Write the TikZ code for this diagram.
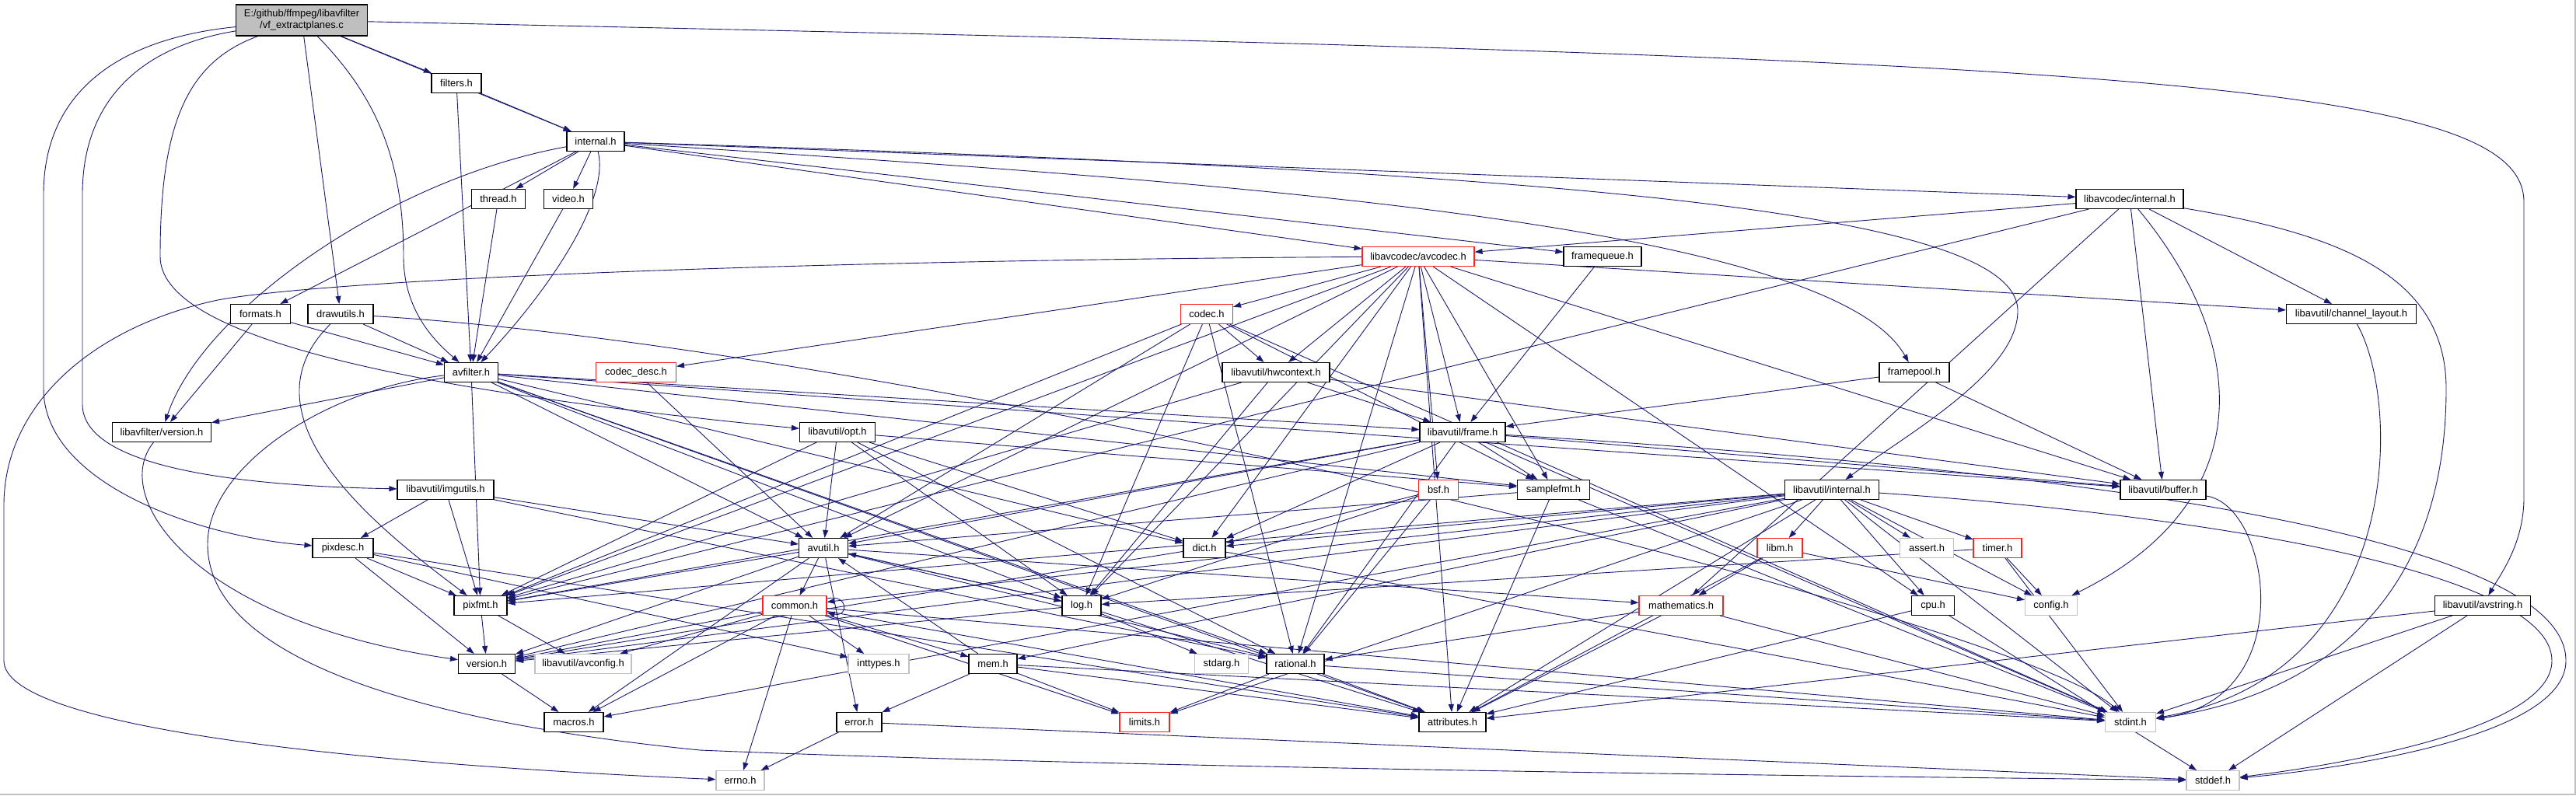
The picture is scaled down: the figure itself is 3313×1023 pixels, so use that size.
\documentclass[tikz,border=0pt]{standalone}
\usepackage{fontspec}
\setmainfont{Liberation Sans}
\usetikzlibrary{arrows.meta}
\definecolor{edgecol}{HTML}{191970}
\definecolor{redb}{HTML}{FF2020}
\definecolor{grayb}{HTML}{C0C0C0}
\definecolor{rootfill}{HTML}{BFBFBF}
\pgfdeclarelayer{bg}
\pgfsetlayers{bg,main}
\tikzset{
 nb/.style={draw=black, fill=white, line width=1.1pt, minimum height=25pt, inner sep=0pt, font=\fontsize{12.9}{15}\selectfont},
 rb/.style={nb, draw=redb},
 gb/.style={nb, draw=grayb},
 e/.style={draw=edgecol, line width=0.9pt, -{Triangle[length=10pt,width=7pt]}},
}
\begin{document}
\begin{tikzpicture}[x=1pt,y=-1pt]
\useasboundingbox (0,0) rectangle (3313,1023);
% nodes
\node[nb, fill=rootfill, minimum width=169pt, minimum height=40pt, align=center] (root) at (388,26) {E:/github/ffmpeg/libavfilter\\/vf\_extractplanes.c};
\node[nb, minimum width=64pt] (filters) at (587,107) {filters.h};
\node[nb, minimum width=74pt] (internal) at (766,182) {internal.h};
\node[nb, minimum width=69pt] (thread) at (641,256) {thread.h};
\node[nb, minimum width=63pt] (video) at (731,256) {video.h};
\node[nb, minimum width=77pt] (formats) at (335,404) {formats.h};
\node[nb, minimum width=84pt] (drawutils) at (438,404) {drawutils.h};
\node[nb, minimum width=69pt] (avfilter) at (606,479) {avfilter.h};
\node[rb, minimum width=103pt] (codecdesc) at (818,479) {codec\_desc.h};
\node[rb, minimum width=67pt] (codec) at (1552,404) {codec.h};
\node[nb, minimum width=138pt] (hwcontext) at (1641,479) {libavutil/hwcontext.h};
\node[rb, minimum width=144pt] (avcodec) at (1824,330) {libavcodec/avcodec.h};
\node[nb, minimum width=100pt] (framequeue) at (2061,330) {framequeue.h};
\node[nb, minimum width=90pt] (framepool) at (2462,479) {framepool.h};
\node[nb, minimum width=138pt] (lavcinternal) at (2739,256) {libavcodec/internal.h};
\node[nb, minimum width=167pt] (chlayout) at (3024,404) {libavutil/channel\_layout.h};
\node[nb, minimum width=127pt] (lafversion) at (208,556) {libavfilter/version.h};
\node[nb, minimum width=124pt] (imgutils) at (573,630) {libavutil/imgutils.h};
\node[nb, minimum width=78pt] (pixdesc) at (441,705) {pixdesc.h};
\node[nb, minimum width=68pt] (pixfmt) at (618,779) {pixfmt.h};
\node[nb, minimum width=73pt] (version) at (626,854) {version.h};
\node[gb, minimum width=124pt] (avconfig) at (750,854) {libavutil/avconfig.h};
\node[nb, minimum width=76pt] (macros) at (738,929) {macros.h};
\node[nb, minimum width=97pt] (opt) at (1077,556) {libavutil/opt.h};
\node[nb, minimum width=63pt] (avutil) at (1059,705) {avutil.h};
\node[nb, minimum width=54pt] (dict) at (1549,705) {dict.h};
\node[rb, minimum width=82pt] (common) at (1022,779) {common.h};
\node[nb, minimum width=50pt] (log) at (1391,779) {log.h};
\node[gb, minimum width=78pt] (inttypes) at (1130,854) {inttypes.h};
\node[nb, minimum width=62pt] (mem) at (1277,854) {mem.h};
\node[gb, minimum width=69pt] (stdarg) at (1571,854) {stdarg.h};
\node[nb, minimum width=74pt] (rational) at (1666,854) {rational.h};
\node[nb, minimum width=58pt] (error) at (1105,929) {error.h};
\node[rb, minimum width=64pt] (limits) at (1472,929) {limits.h};
\node[gb, minimum width=62pt] (errno) at (952,1004) {errno.h};
\node[nb, minimum width=110pt] (frame) at (1881,556) {libavutil/frame.h};
\node[rb, minimum width=51pt] (bsf) at (1850,630) {bsf.h};
\node[nb, minimum width=93pt] (samplefmt) at (1998,630) {samplefmt.h};
\node[nb, minimum width=121pt] (lavuinternal) at (2356,630) {libavutil/internal.h};
\node[rb, minimum width=58pt] (libm) at (2289,705) {libm.h};
\node[gb, minimum width=69pt] (assert) at (2478,705) {assert.h};
\node[rb, minimum width=108pt] (mathematics) at (2162,779) {mathematics.h};
\node[nb, minimum width=55pt] (cpu) at (2486,779) {cpu.h};
\node[nb, minimum width=86pt] (attributes) at (1868,929) {attributes.h};
\node[nb, minimum width=110pt] (buffer) at (2782,630) {libavutil/buffer.h};
\node[rb, minimum width=62pt] (timer) at (2569,705) {timer.h};
\node[gb, minimum width=67pt] (config) at (2638,779) {config.h};
\node[nb, minimum width=123pt] (avstring) at (3193,779) {libavutil/avstring.h};
\node[gb, minimum width=65pt] (stdint) at (2740,929) {stdint.h};
\node[gb, minimum width=68pt] (stddef) at (2846,1004) {stddef.h};
% edges
\begin{pgfonlayer}{bg}
\fill[white] (0,0) rectangle (3313,1023);
\draw[grayb, line width=1.5pt] (3312,0) -- (3312,1022) -- (0,1022);
\foreach \a/\b in {root/filters, root/internal, root/drawutils,
 filters/avfilter, filters/internal,
 internal/thread, internal/video, internal/formats, internal/avcodec, internal/framequeue, internal/lavcinternal,
 thread/avfilter, video/avfilter, formats/avfilter, formats/lafversion, drawutils/avfilter,
 avfilter/attributes, avfilter/avutil, avfilter/buffer, avfilter/dict, avfilter/frame, avfilter/log, avfilter/samplefmt, avfilter/pixfmt, avfilter/rational, avfilter/lafversion,
 framequeue/frame, framepool/buffer, framepool/frame,
 avcodec/samplefmt, avcodec/attributes, avcodec/avutil, avcodec/buffer, avcodec/cpu, avcodec/chlayout, avcodec/dict, avcodec/frame, avcodec/hwcontext, avcodec/log, avcodec/pixfmt, avcodec/rational, avcodec/bsf, avcodec/codec, avcodec/codecdesc,
 lavcinternal/avcodec, lavcinternal/chlayout, lavcinternal/buffer, lavcinternal/mathematics, lavcinternal/pixfmt,
 codec/stdint, codec/avutil, codec/hwcontext, codec/log, codec/pixfmt, codec/rational, codec/samplefmt,
 codecdesc/avutil,
 hwcontext/buffer, hwcontext/frame, hwcontext/log, hwcontext/pixfmt,
 bsf/dict, bsf/log, bsf/rational,
 frame/stdint, frame/avutil, frame/buffer, frame/dict, frame/rational, frame/samplefmt, frame/pixfmt, frame/version,
 samplefmt/stdint, samplefmt/avutil, samplefmt/attributes,
 opt/rational, opt/avutil, opt/dict, opt/log, opt/pixfmt, opt/samplefmt,
 imgutils/avutil, imgutils/pixdesc, imgutils/pixfmt, imgutils/rational,
 pixdesc/inttypes, pixdesc/attributes, pixdesc/pixfmt, pixdesc/version,
 pixfmt/version, pixfmt/avconfig, version/macros,
 avutil/common, avutil/error, avutil/rational, avutil/version, avutil/macros, avutil/mathematics, avutil/log, avutil/pixfmt,
 dict/stdint, dict/version,
 common/inttypes, common/mem, common/errno, common/limits, common/attributes, common/stdint, common/macros, common/version, common/avconfig,
 log/stdarg, log/avutil, log/attributes, log/version,
 mem/limits, mem/stdint, mem/attributes, mem/error, mem/avutil,
 rational/stdint, rational/limits, rational/attributes,
 error/errno, error/stddef,
 mathematics/stdint, mathematics/attributes, mathematics/rational,
 lavuinternal/limits, lavuinternal/stdint, lavuinternal/assert, lavuinternal/config, lavuinternal/attributes, lavuinternal/timer, lavuinternal/cpu, lavuinternal/dict, lavuinternal/macros, lavuinternal/mem, lavuinternal/pixfmt, lavuinternal/version, lavuinternal/libm, lavuinternal/common,
 libm/attributes, libm/mathematics, libm/config,
 cpu/stddef, cpu/attributes,
 timer/config, timer/stdint, timer/log,
 avstring/stdint, avstring/stddef, avstring/attributes}
 \draw[e] (\a) -- (\b);
% curved edges
\draw[e] (root) .. controls (2700,75) and (3246,100) .. (3246,260) -- (3246,640) .. controls (3246,700) and (3215,740) .. (avstring);
\draw[e] (root) .. controls (150,50) and (56,120) .. (56,250) -- (56,500) .. controls (56,620) and (250,690) .. (pixdesc);
\draw[e] (root) .. controls (180,60) and (106,130) .. (106,250) -- (106,520) .. controls (106,600) and (300,625) .. (imgutils);
\draw[e] (root) .. controls (240,80) and (206,160) .. (206,330) .. controls (206,430) and (500,500) .. (opt);
\draw[e] (root) .. controls (480,120) and (519,200) .. (519,330) .. controls (519,400) and (560,440) .. (avfilter);
\draw[e] (internal) .. controls (500,230) and (260,400) .. (lafversion);
\draw[e] (internal) .. controls (785,260) and (700,380) .. (avfilter);
\draw[e] (internal) .. controls (1500,230) and (2350,280) .. (framepool);
\draw[e] (internal) .. controls (2000,220) and (2595,270) .. (2595,400) .. controls (2595,480) and (2450,560) .. (lavuinternal);
\draw[e] (drawutils) .. controls (1200,450) and (2600,800) .. (stdint);
\draw[e] (drawutils) .. controls (300,540) and (500,690) .. (pixfmt);
\draw[e] (avcodec) .. controls (1000,335) and (420,360) .. (280,386) .. controls (120,420) and (5,520) .. (5,650) -- (5,850) .. controls (5,930) and (400,980) .. (errno);
\draw[e] (avfilter) .. controls (420,500) and (267,600) .. (267,700) .. controls (267,850) and (550,930) .. (900,965) .. controls (1500,990) and (2500,1000) .. (stddef);
\draw[e] (lafversion) .. controls (140,640) and (250,800) .. (version);
\draw[e] (lavcinternal) .. controls (3000,300) and (3146,350) .. (3146,500) .. controls (3146,800) and (2950,900) .. (stdint);
\draw[e] (lavcinternal) .. controls (2900,450) and (2900,650) .. (config);
\draw[e] (chlayout) .. controls (3090,520) and (3090,870) .. (stdint);
\draw[e] (buffer) .. controls (2920,650) and (2960,900) .. (stdint);
\draw[e] (frame) .. controls (2600,600) and (3300,680) .. (3300,850) .. controls (3300,950) and (3000,990) .. (stddef);
\draw[e] (lavuinternal) .. controls (2800,660) and (3282,730) .. (3282,850) .. controls (3282,940) and (3000,985) .. (stddef);
\draw[e] ([yshift=-4pt]common.north east) .. controls +(28,-6) and +(28,6) .. ([yshift=4pt]common.south east);
\end{pgfonlayer}
\end{tikzpicture}
\end{document}
